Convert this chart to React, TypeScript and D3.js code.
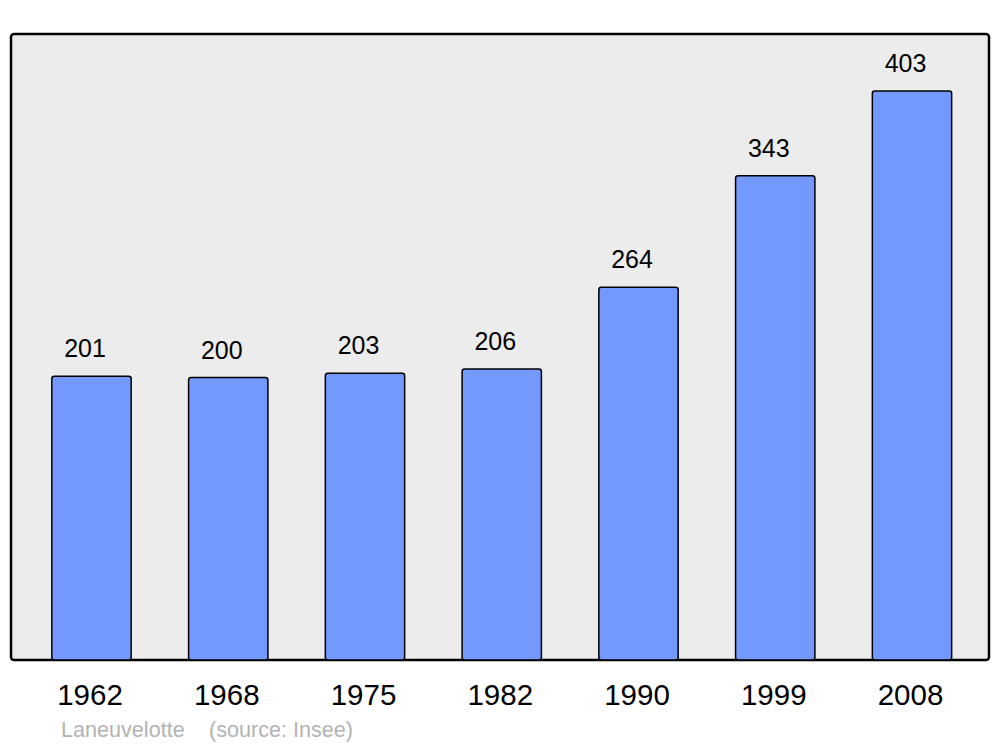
import React from "react";
import * as d3 from "d3";

const years = ["1962", "1968", "1975", "1982", "1990", "1999", "2008"];
const population = [201, 200, 203, 206, 264, 343, 403];
const townName = "Laneuvelotte";
const sourceText = "(source: Insee)";

const W = 1000;
const H = 747;
const panel = { x: 11, y: 34, w: 978, h: 626 };

export default function App() {
  const x = d3
    .scalePoint<string>()
    .domain(years)
    .range([91.5, 912]);
  const step = x.step();
  const barW = step * 0.58;
  const y = d3
    .scaleLinear()
    .domain([0, d3.max(population)! * 1.1])
    .range([panel.y + panel.h, panel.y]);

  const font = "'Liberation Sans', Arial, sans-serif";

  return (
    <svg
      width={W}
      height={H}
      style={{ position: "absolute", left: 0, top: 0, background: "#fff" }}
    >
      <rect
        x={panel.x}
        y={panel.y}
        width={panel.w}
        height={panel.h}
        rx={3}
        fill="#ececec"
        stroke="#000"
        strokeWidth={2.5}
      />
      {years.map((yr, i) => {
        const cx = x(yr)!;
        const top = y(population[i]);
        return (
          <g key={yr}>
            <rect
              x={cx - barW / 2}
              y={top}
              width={barW}
              height={y(0) - top}
              rx={2.5}
              fill="#7399ff"
              stroke="#000"
              strokeWidth={1.5}
            />
            <text
              x={cx - 6.5}
              y={top - 19}
              textAnchor="middle"
              fontFamily={font}
              fontSize={25}
              fill="#000"
            >
              {population[i]}
            </text>
            <text
              x={cx - 1.5}
              y={705}
              textAnchor="middle"
              fontFamily={font}
              fontSize={29.5}
              fill="#000"
            >
              {yr}
            </text>
          </g>
        );
      })}
      <text x={61} y={737} fontFamily={font} fontSize={21.6} fill="#b3b3b3">
        {townName}
      </text>
      <text x={209} y={737} fontFamily={font} fontSize={21.6} fill="#b3b3b3">
        {sourceText}
      </text>
    </svg>
  );
}
